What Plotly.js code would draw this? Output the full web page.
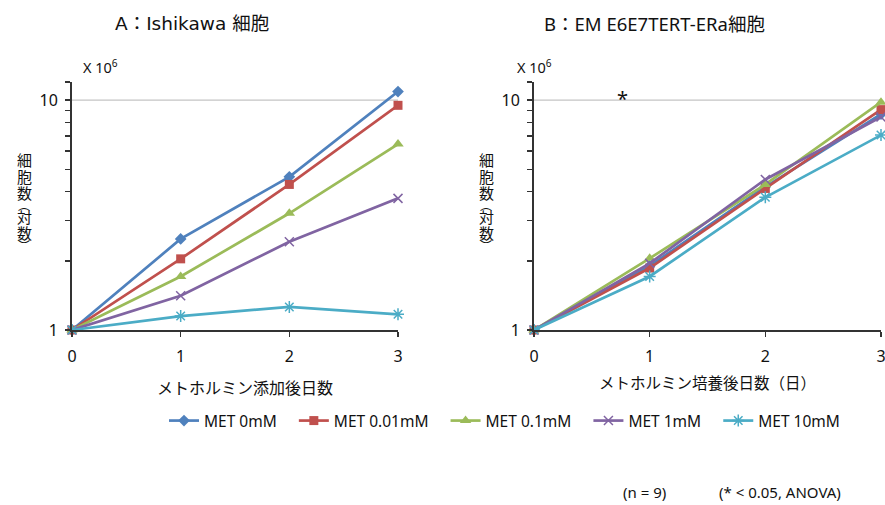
<!DOCTYPE html>
<html>
<head>
<meta charset="utf-8">
<script src="https://cdn.plot.ly/plotly-3.0.1.min.js"></script>
<style>html,body{margin:0;padding:0;background:#fff;}#chart{width:885px;height:505px;}</style>
</head>
<body>
<div id="chart"></div>
<script>
// ---- data ----
const days = [0, 1, 2, 3];
const seriesNames = ["MET 0mM", "MET 0.01mM", "MET 0.1mM", "MET 1mM", "MET 10mM"];
// Panel A: Ishikawa cells (x10^6)
const ishikawa_0mM    = [1, 2.49, 4.64, 10.9];
const ishikawa_001mM  = [1, 2.04, 4.30, 9.5];
const ishikawa_01mM   = [1, 1.71, 3.22, 6.44];
const ishikawa_1mM    = [1, 1.41, 2.42, 3.74];
const ishikawa_10mM   = [1, 1.15, 1.26, 1.17];
// Panel B: EM E6E7TERT-ERa cells (x10^6)
const em_0mM    = [1, 1.90, 4.20, 8.7];
const em_001mM  = [1, 1.86, 4.13, 9.1];
const em_01mM   = [1, 2.05, 4.30, 9.8];
const em_1mM    = [1, 1.95, 4.52, 8.45];
const em_10mM   = [1, 1.71, 3.78, 7.05];
const yTickVals = [1, 2, 3, 4, 5, 6, 7, 8, 9, 10, 12];
const yTickText = ["1", "", "", "", "", "", "", "", "", "10", ""];
const yGridVals = [10];
const xTickVals = [0, 1, 2, 3];
const yTitleChars = ["細", "胞", "数", "︵", "対", "数", "︶"];

const colors = ["#4F81BD", "#C0504D", "#9BBB59", "#8064A2", "#4BACC6"];
const symbols = ["diamond", "square", "triangle-up", "x-thin-open", "asterisk-open"];
const msizes = [9, 9, 10, 9, 10];

const A = [ishikawa_0mM, ishikawa_001mM, ishikawa_01mM, ishikawa_1mM, ishikawa_10mM];
const B = [em_0mM, em_001mM, em_01mM, em_1mM, em_10mM];

const pad = "\u00a0\u00a0\u00a0";
const traces = [];
function mk(ys, i, xa, ya, leg) {
  return {
    x: days, y: ys, xaxis: xa, yaxis: ya, name: seriesNames[i] + pad, type: "scatter",
    mode: "lines+markers", showlegend: leg,
    line: {color: colors[i], width: 2.7},
    marker: {symbol: symbols[i], size: msizes[i], color: colors[i], line: {color: colors[i], width: i >= 3 ? 1.5 : 0}},
    cliponaxis: false
  };
}
A.forEach((ys, i) => traces.push(mk(ys, i, "x", "y", true)));
B.forEach((ys, i) => traces.push(mk(ys, i, "x2", "y2", false)));

const latin = "'Noto Sans', 'Noto Sans CJK JP', sans-serif";
const wide = "'DejaVu Sans', 'Noto Sans CJK JP', sans-serif";
const cjk = "'Noto Sans CJK JP', sans-serif";
const axisY = {
  type: "log", range: [0, Math.log10(12)],
  tickmode: "array", tickvals: yTickVals, ticktext: yTickText,
  ticks: "outside", ticklen: 5, tickwidth: 1.5, tickcolor: "#333",
  ticklabelstandoff: 4,
  showline: true, linecolor: "#333", linewidth: 2,
  showgrid: false, zeroline: false, tickfont: {size: 16, color: "#111", family: latin},
  fixedrange: true
};
const axisX = {
  range: [0, 3], tickmode: "array", tickvals: xTickVals, ticktext: xTickVals.map(String),
  ticks: "outside", ticklen: 5, tickwidth: 1.5, tickcolor: "#333",
  ticklabelstandoff: 6, ticklabeloverflow: "allow",
  showline: true, linecolor: "#333", linewidth: 2, showgrid: false, zeroline: false,
  tickfont: {size: 16, color: "#111", family: latin}, fixedrange: true
};

const W = 885, H = 505;
const px = v => v / W, py = v => (H - v) / H;
function ann(text, x, y, size, fam, extra) {
  return Object.assign({text: text, x: px(x), y: py(y), xref: "paper", yref: "paper", showarrow: false,
    xanchor: "center", yanchor: "middle", font: {size: size, family: fam || latin, color: "#111"}}, extra || {});
}

const annotations = [
  ann("A：Ishikawa 細胞", 192, 23, 18.5, wide),
  ann("B：EM E6E7TERT-ERa細胞", 654, 23, 18.5),
  ann("X 10<sup>6</sup>", 100, 66, 14.5),
  ann("X 10<sup>6</sup>", 534, 66, 14.5),
  ann("メトホルミン添加後日数", 245, 387, 16, cjk),
  ann("メトホルミン培養後日数（日）", 707, 382, 15.5, cjk),
  ann("*", 622, 99, 20),
  ann("(n = 9)", 644, 504, 15, latin, {yanchor: "bottom"}),
  ann("(* < 0.05, ANOVA)", 780, 504, 15, latin, {yanchor: "bottom"})
];
const charY = [160, 176, 192, 204, 216, 233, 245];
const charSize = [15, 15, 15, 12, 15, 15, 12];
yTitleChars.forEach((c, k) => {
  annotations.push(ann(c, 24, charY[k], charSize[k], cjk));
  annotations.push(ann(c, 486, charY[k], charSize[k], cjk));
});

const shapes = [];
yGridVals.forEach(g => {
  shapes.push({type: "line", xref: "x domain", yref: "y", x0: 0, x1: 1, y0: g, y1: g, line: {color: "#c4c4c4", width: 1.3}, layer: "below"});
  shapes.push({type: "line", xref: "x2 domain", yref: "y2", x0: 0, x1: 1, y0: g, y1: g, line: {color: "#c4c4c4", width: 1.3}, layer: "below"});
});

const layout = {
  width: W, height: H,
  margin: {l: 0, r: 0, t: 0, b: 0},
  paper_bgcolor: "#fff", plot_bgcolor: "#fff",
  font: {family: latin, color: "#111"},
  xaxis: Object.assign({}, axisX, {domain: [px(72), px(398)], anchor: "y"}),
  yaxis: Object.assign({}, axisY, {domain: [py(330), py(82)], anchor: "x"}),
  xaxis2: Object.assign({}, axisX, {domain: [px(534), px(881)], anchor: "y2"}),
  yaxis2: Object.assign({}, axisY, {domain: [py(330), py(82)], anchor: "x2"}),
  showlegend: true,
  legend: {orientation: "h", x: px(164), y: py(421), xanchor: "left", yanchor: "middle",
           font: {size: 15.5, color: "#111", family: latin}, itemwidth: 30, bgcolor: "rgba(0,0,0,0)"},
  shapes: shapes,
  annotations: annotations
};

Plotly.newPlot("chart", traces, layout, {staticPlot: true, displayModeBar: false});
</script>
</body>
</html>
